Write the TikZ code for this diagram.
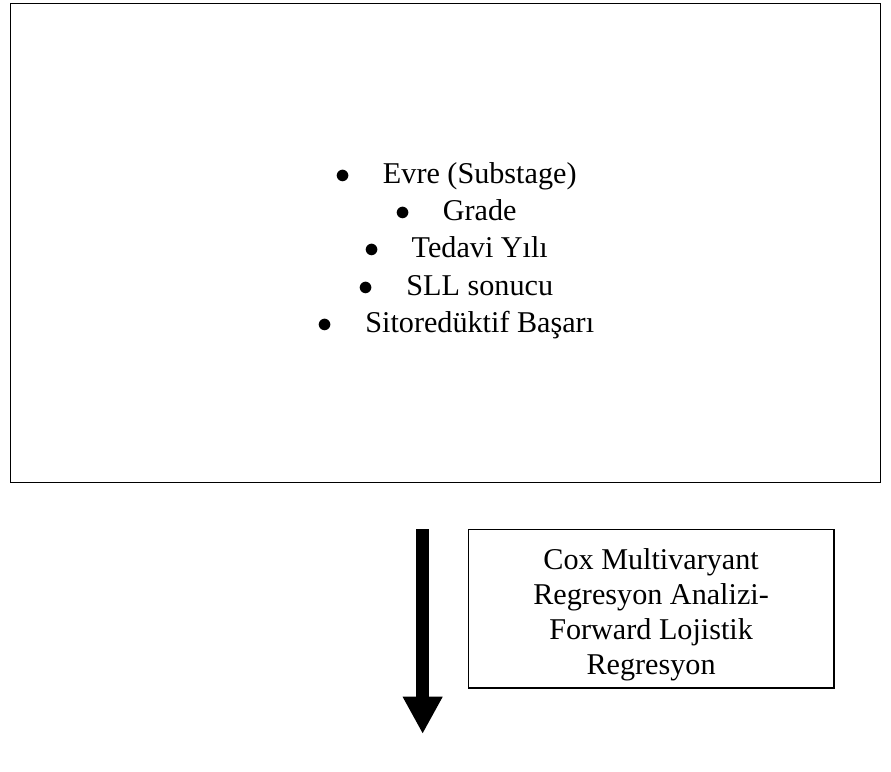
\documentclass[tikz,border=0pt]{standalone}
\usepackage{fontspec}
\setmainfont{Liberation Serif}
\usetikzlibrary{arrows.meta}

\newcommand{\itembullet}{\llap{$\bullet$\hspace{12.9pt}}}

\begin{document}
\begin{tikzpicture}[x=0.3785pt, y=-0.3785pt, every node/.style={font=\fontsize{12}{15}\selectfont}]
    \useasboundingbox (0,0) rectangle (936,811);

    % Factors box
    \node[draw, line width=0.6pt, rectangle, minimum width=345.95pt, minimum height=190.57pt] (factors) at (468,255.25) {};

    % Factors
    \node[anchor=base] (evre) at (504,192.5) {\itembullet Evre (Substage)};
    \node[anchor=base] (grade) at (504,231.5) {\itembullet Grade};
    \node[anchor=base] (tedavi) at (504,271) {\itembullet Tedavi Yılı};
    \node[anchor=base] (sll) at (504,310.5) {\itembullet SLL sonucu};
    \node[anchor=base] (sito) at (504,349.5) {\itembullet Sitoredüktif Başarı};

    % Method box
    \node[draw, line width=0.6pt, rectangle, minimum width=145.34pt, minimum height=63.21pt] (cox) at (684,639.5) {};
    \node[align=center, inner sep=0pt, font=\fontsize{12}{13.9}\selectfont] (coxtext) at (684,645.5) {Cox Multivaryant\\Regresyon Analizi-\\Forward Lojistik\\Regresyon};

    % Arrow
    \coordinate (arrtop) at (444,556);
    \coordinate (arrtip) at (444,771);
    \draw[line width=5.3pt, -{Triangle[length=14.8pt, width=14.8pt]}] (arrtop) -- (arrtip);
\end{tikzpicture}
\end{document}
